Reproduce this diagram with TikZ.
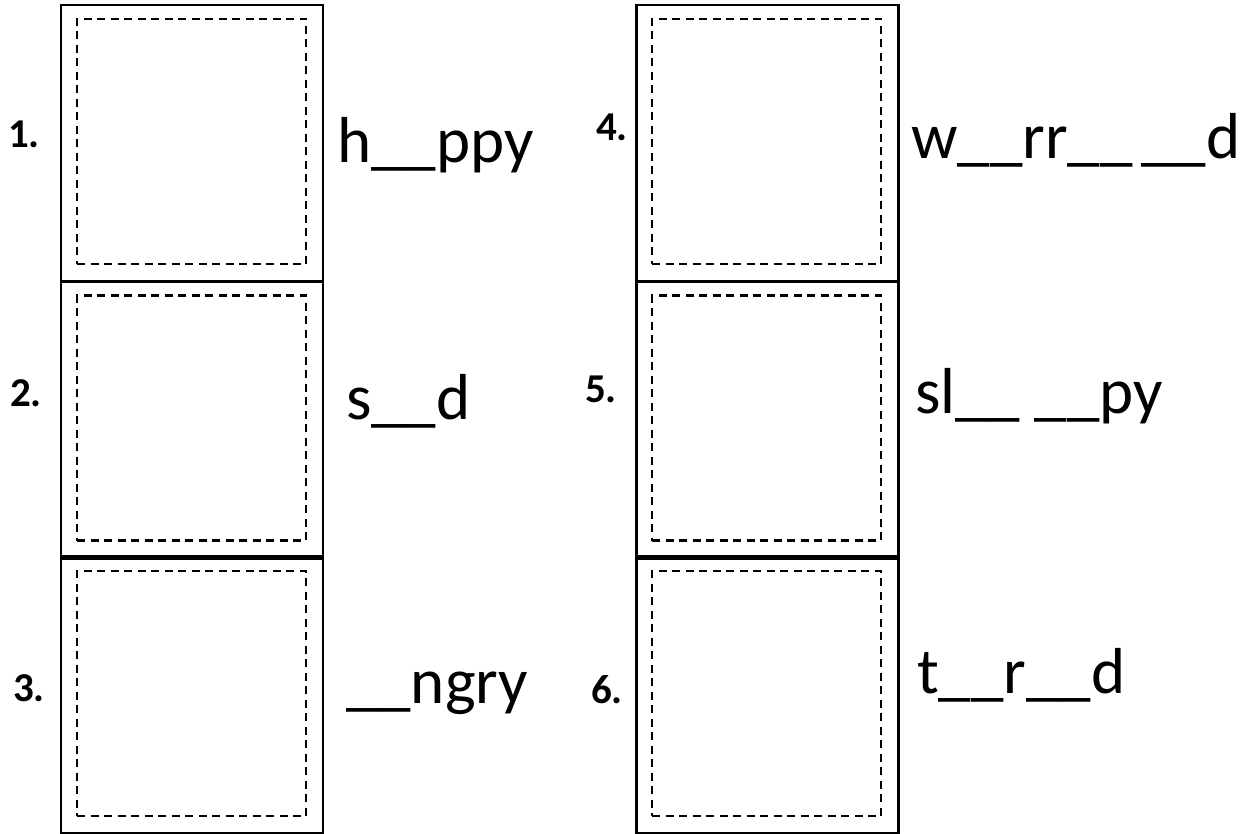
\documentclass[tikz,border=0pt]{standalone}
\usepackage{fontspec}
\setmainfont{Carlito}
\begin{document}
\begin{tikzpicture}[x=1pt,y=-1pt,
  cell/.style={draw=black,line width=2.3pt,inner sep=0pt,minimum width=262pt,minimum height=277pt},
  inset/.style={draw=black,line width=2.2pt,dash pattern=on 8pt off 5.5pt,inner sep=0pt,minimum width=229pt,minimum height=245pt},
  num/.style={anchor=base west,inner sep=0pt,font=\fontsize{41}{49}\selectfont\bfseries},
  word/.style={anchor=base west,inner sep=0pt,font=\fontsize{65}{78}\selectfont}]
\useasboundingbox (0,0) rectangle (1241,834);
% cells
\node[cell] (c1) at (192,143.5) {};
\node[cell] (c2) at (192,420) {};
\node[cell] (c3) at (192,695) {};
\node[cell] (c4) at (767.5,143.5) {};
\node[cell] (c5) at (767.5,420) {};
\node[cell] (c6) at (767.5,695) {};
% dashed insets
\node[inset] (d1) at (191.5,141.5) {};
\node[inset] (d2) at (191.5,418) {};
\node[inset] (d3) at (191.5,693.5) {};
\node[inset] (d4) at (766.5,141.5) {};
\node[inset] (d5) at (766.5,418) {};
\node[inset] (d6) at (766.5,693.5) {};
% numbers
\node[num] (n1) at (8,148) {1.};
\node[num] (n2) at (10,406) {2.};
\node[num] (n3) at (13,701) {3.};
\node[num] (n4) at (596,141) {4.};
\node[num] (n5) at (585,402) {5.};
\node[num] (n6) at (591,703) {6.};
% words
\node[word] (w1) at (337,163) {h\_\_ppy};
\node[word] (w2) at (346,419) {s\_\_d};
\node[word] (w3) at (346,703) {\_\_ngry};
\node[word] (w4) at (911,159) {w\_\_rr\_\_\hspace{0.14em}\_\_d};
\node[word] (w5) at (915,413) {sl\_\_ \_\_py};
\node[word] (w6) at (917,693) {t\_\_r\_\_d};
\end{tikzpicture}
\end{document}
